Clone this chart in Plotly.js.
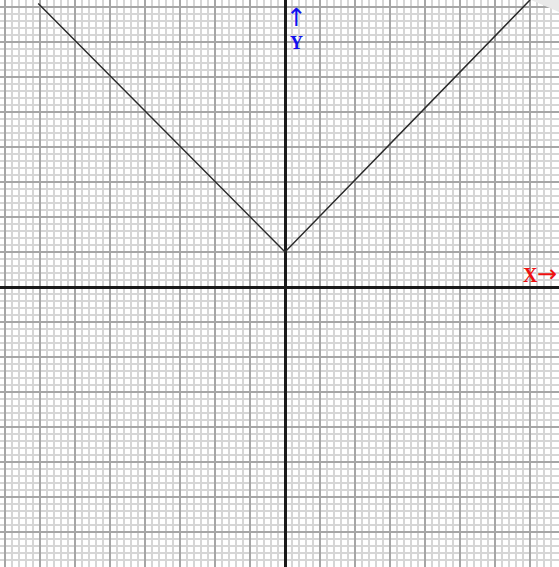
<!DOCTYPE html>
<html>
<head>
<meta charset="utf-8">
<script src="https://cdn.plot.ly/plotly-3.0.1.min.js"></script>
<style>html,body{margin:0;padding:0;background:#fff;}#chart{width:559px;height:567px;}</style>
</head>
<body>
<div id="chart"></div>
<script>
// Data: graph of y = |x| + 1 (V shape, vertex at (0,1))
const curveX = [-7.05, 0, 7.0];
const curveY = [8.1, 1, 8.2];
// Axis labels
const xLabel = 'X';
const xArrow = '\u2192';
const yArrow = '\u2191';
const yLabel = 'Y';

const trace = {
  x: curveX, y: curveY, type: 'scatter', mode: 'lines',
  line: {color: '#2a2a2a', width: 1.5}, hoverinfo: 'skip', showlegend: false
};

const axisCommon = {
  showticklabels: false, ticks: '', showline: false,
  dtick: 1, tick0: 0,
  showgrid: true, gridcolor: '#a6a6a6', gridwidth: 2,
  minor: {dtick: 0.2, showgrid: true, gridcolor: '#d6d6d6', gridwidth: 1.6, ticks: ''},
  zeroline: true, zerolinecolor: '#1a1a1a', zerolinewidth: 3,
  fixedrange: true
};

const layout = {
  width: 559, height: 567,
  margin: {l: 0, r: 0, t: 0, b: 0, pad: 0},
  paper_bgcolor: '#ffffff', plot_bgcolor: '#ffffff',
  xaxis: Object.assign({}, axisCommon, {range: [-285/35, 274/35]}),
  yaxis: Object.assign({}, axisCommon, {range: [-280/35, 287/35]}),
  showlegend: false,
  shapes: [
    {type: 'path', xref: 'paper', yref: 'paper', layer: 'above',
     path: 'M ' + (531/559) + ' 1 L 1 1 L 1 ' + (1 - 12/567) + ' Z',
     fillcolor: '#e9e9e9', line: {width: 0}}
  ],
  annotations: [
    {x: 0.32, y: 7.39, xref: 'x', yref: 'y', showarrow: false, borderpad: 0,
     text: '<span style="font-family:\'DejaVu Sans\';font-size:25px">' + yArrow + '</span><br><b>' + yLabel + '</b>',
     font: {family: 'Liberation Serif, serif', size: 18, color: '#1010ee'}},
    {x: 7.0, y: 0.35, xref: 'x', yref: 'y', text: '<b>' + xLabel + '</b>', showarrow: false,
     font: {family: 'Liberation Serif, serif', size: 20, color: '#ee1010'}},
    {x: 1, xref: 'paper', xanchor: 'right', y: 0.36, yref: 'y', text: xArrow, showarrow: false,
     xshift: -1, borderpad: 0,
     font: {family: 'DejaVu Sans, sans-serif', size: 24, color: '#ee1010'}}
  ]
};

Plotly.newPlot('chart', [trace], layout, {staticPlot: true, displayModeBar: false});
</script>
</body>
</html>
